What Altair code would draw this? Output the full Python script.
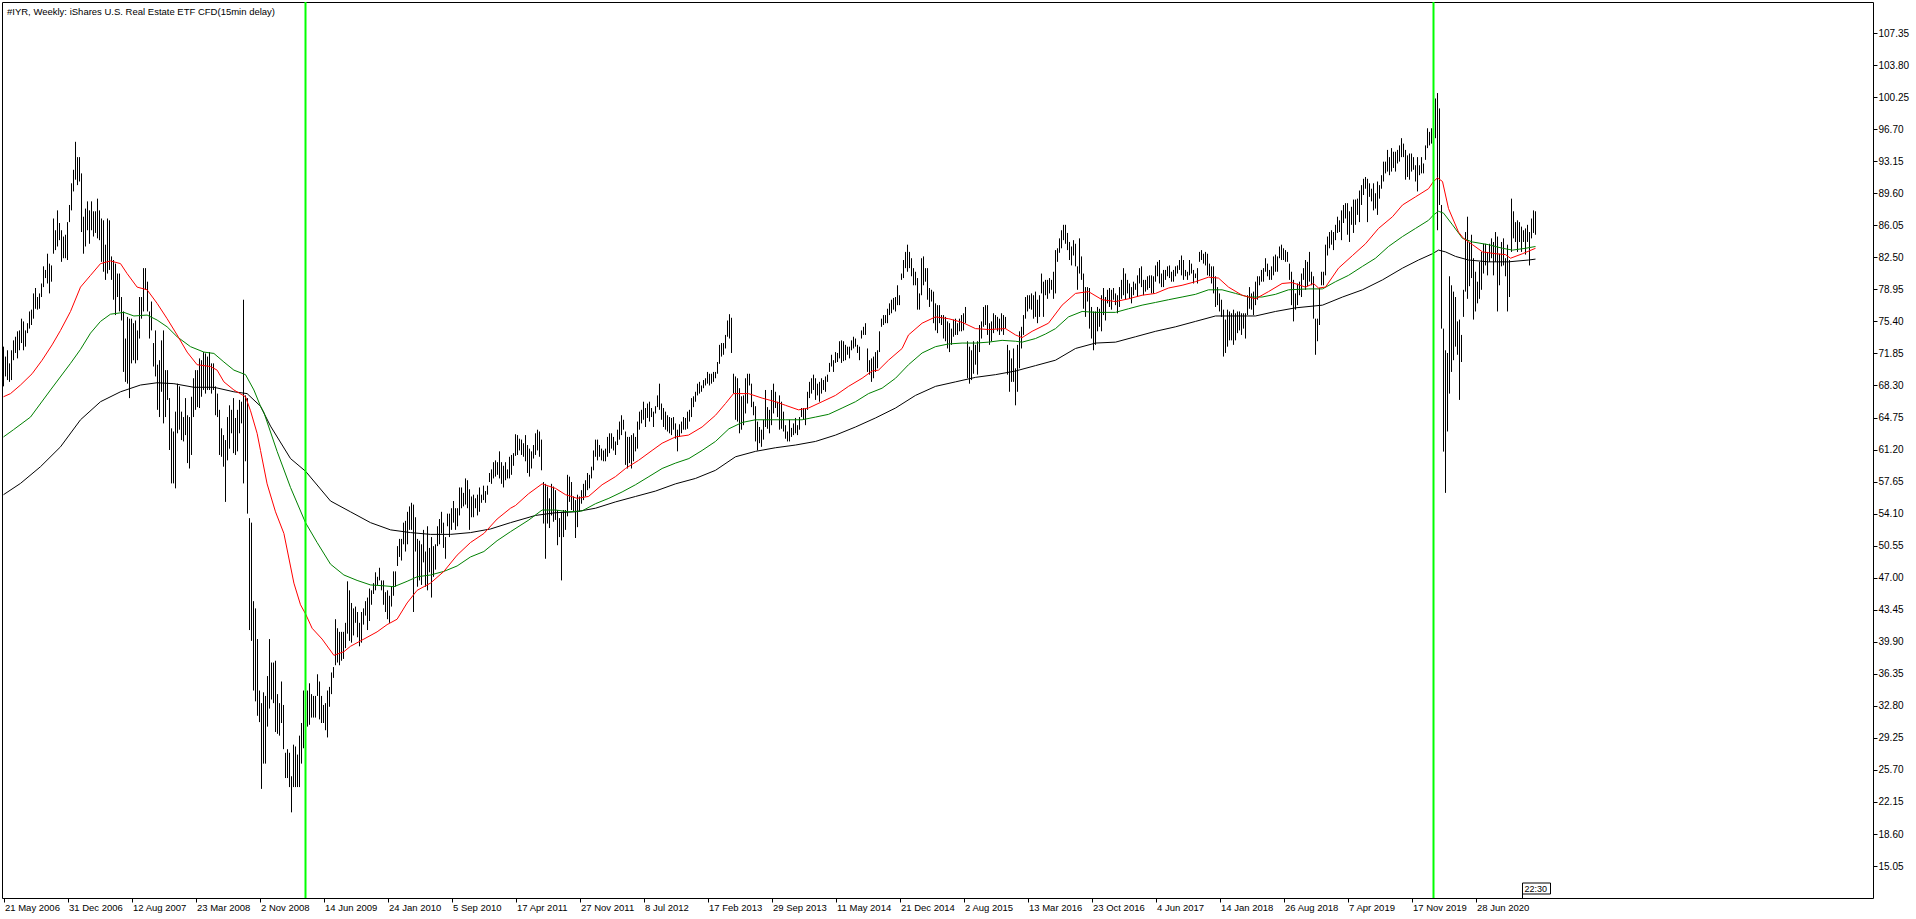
import json
import altair as alt
import pandas as pd

FONT = "Liberation Sans"

title_text = "#IYR, Weekly:  iShares U.S. Real Estate ETF CFD(15min delay)"
first_week = "2006-05-21"  # bar 0; one bar per week
tick_every = 32
tick_labels = ["21 May 2006", "31 Dec 2006", "12 Aug 2007", "23 Mar 2008", "2 Nov 2008",
               "14 Jun 2009", "24 Jan 2010", "5 Sep 2010", "17 Apr 2011", "27 Nov 2011",
               "8 Jul 2012", "17 Feb 2013", "29 Sep 2013", "11 May 2014", "21 Dec 2014",
               "2 Aug 2015", "13 Mar 2016", "23 Oct 2016", "4 Jun 2017", "14 Jan 2018",
               "26 Aug 2018", "7 Apr 2019", "17 Nov 2019", "28 Jun 2020"]
price_ticks = [15.05, 18.60, 22.15, 25.70, 29.25, 32.80, 36.35, 39.90, 43.45, 47.00,
               50.55, 54.10, 57.65, 61.20, 64.75, 68.30, 71.85, 75.40, 78.95, 82.50,
               86.05, 89.60, 93.15, 96.70, 100.25, 103.80, 107.35]

highs = [
    72.6, 71.5, 72.2, 70.75, 72.2, 73.3, 73.7, 74.3, 74.4, 75.7,
    75.4, 74.4, 75.2, 76.5, 76.7, 78.5, 79.1, 78.1, 78.5, 79.6,
    81.5, 81.1, 82.9, 81.8, 81.6, 86.8, 85.5, 87.7, 86.3, 85.5,
    84.8, 85.0, 86.4, 88.3, 90.7, 92.2, 95.3, 93.6, 93.6, 91.8,
    87.0, 87.9, 88.7, 87.7, 88.7, 87.6, 87.6, 89.0, 87.7, 86.8,
    86.6, 83.9, 86.8, 86.6, 82.6, 82.2, 81.8, 80.7, 80.7, 78.1,
    76.5, 73.5, 75.9, 75.7, 75.7, 75.2, 75.5, 74.4, 78.1, 78.1,
    81.3, 81.3, 79.8, 76.5, 77.6, 73.0, 74.4, 70.6, 71.1, 73.3,
    74.4, 70.0, 70.0, 66.9, 63.55, 63.2, 65.4, 68.5, 68.2, 65.4,
    64.8, 66.9, 65.0, 64.8, 67.05, 69.1, 70.0, 70.0, 71.3, 71.1,
    72.0, 71.85, 71.5, 72.0, 70.75, 70.75, 68.2, 67.4, 65.6, 63.55,
    62.8, 62.25, 64.8, 66.1, 65.6, 66.9, 64.7, 65.6, 66.7, 66.5,
    77.8, 67.2, 66.9, 53.6,
    53.1, 44.4, 43.6, 40.2, 34.5, 33.1, 34.3, 33.9, 36.1, 40.2,
    37.6, 37.6, 37.8, 34.1, 33.1, 35.5, 32.9, 27.6, 28.0, 27.6,
    25.0, 28.5, 28.3, 27.4, 29.5, 30.9, 34.5, 34.3, 34.5, 35.3,
    34.1, 33.9, 33.9, 36.3, 35.5, 33.9, 32.9, 33.1, 34.5, 34.9,
    36.5, 37.1, 42.4, 41.4, 41.0, 41.0, 41.0, 42.0, 46.6, 45.6,
    44.2, 43.6, 43.8, 43.2, 42.0, 43.2, 43.6, 44.4, 44.8, 45.8,
    45.6, 46.4, 47.6, 47.1, 48.1, 46.7, 46.7, 45.4, 45.6, 45.0,
    46.0, 47.7, 47.7, 50.5, 51.3, 51.3, 53.1, 53.3, 54.3, 54.9,
    55.3, 55.1, 53.7, 51.3, 51.1, 50.7, 52.3, 49.9, 52.7, 50.3,
    51.5, 50.5, 50.7, 52.7, 53.5, 54.3, 53.1, 51.5, 54.1, 54.1,
    54.7, 55.5, 54.7, 54.7, 57.0, 57.0, 56.4, 58.0, 57.8, 56.8,
    56.0, 56.2, 55.8, 56.2, 57.0, 56.2, 57.2, 56.6, 57.2, 58.6,
    59.0, 59.8, 60.0, 59.8, 61.0, 59.8, 59.4, 59.8, 59.0, 60.4,
    60.6, 60.8,
    62.9, 62.8, 62.4, 62.3, 61.9, 62.8, 61.7, 61.3, 61.0, 61.7,
    63.0, 63.4, 63.2, 62.3, 57.6, 57.4, 57.1, 55.8, 57.4, 57.1,
    56.7, 54.5, 53.6, 54.3, 54.5, 54.5, 58.4, 58.2, 57.6, 56.0,
    55.6, 56.2, 56.0, 56.7, 57.4, 57.8, 58.6, 58.4, 59.3, 61.1,
    62.3, 62.3, 61.7, 61.3, 61.1, 61.3, 62.6, 63.0, 63.0, 62.6,
    62.1, 63.4, 64.3, 65.0, 64.5, 63.2, 62.6, 62.6, 62.8, 63.0,
    62.6, 64.3, 65.4, 65.6, 66.5, 65.8, 66.3, 66.5, 65.8, 65.4,
    66.0, 67.2, 68.5, 66.3, 65.8, 65.4, 65.0, 64.8, 64.7, 64.8,
    64.1, 63.4, 64.0, 64.3, 64.8, 64.7, 65.4, 65.6, 66.9, 67.1,
    67.6, 68.5, 68.7, 68.3, 68.9, 69.1, 69.8, 69.6, 69.6, 69.8,
    69.8, 70.9, 72.8, 73.0, 73.0, 73.9, 75.5, 76.2, 75.8, 69.6,
    69.3, 69.1, 68.0, 67.1, 67.2, 69.1, 69.6, 69.6, 68.5, 66.5,
    66.0, 64.3, 63.7, 63.4, 64.5, 67.8, 65.9, 65.6, 67.8, 68.5,
    67.6, 66.5, 67.2, 66.5, 65.4,
    63.9, 63.2, 64.5, 63.6, 64.1, 64.7, 63.9, 64.8, 65.8, 65.8,
    65.8, 67.6, 68.7, 69.1, 69.5, 69.1, 68.5, 68.7, 69.1, 68.9,
    69.3, 69.5, 70.8, 71.7, 71.1, 72.0, 71.9, 73.2, 73.3, 73.2,
    72.8, 72.6, 72.6, 73.3, 73.7, 73.5, 72.8, 72.6, 74.4, 74.8,
    75.2, 72.4, 71.1, 71.3, 71.5, 72.0, 72.2, 74.3, 75.7, 76.1,
    76.1, 76.8, 77.4, 77.8, 78.0, 78.1, 79.4, 78.3, 80.7, 82.2,
    83.1, 83.9, 83.1, 82.4, 81.3, 80.9, 80.2, 78.5, 82.4, 82.6,
    81.3, 81.3, 79.1, 78.9, 78.7, 77.4, 77.2, 77.2, 76.1, 76.1,
    75.9, 75.4, 75.2, 74.6, 75.6, 75.7, 75.2, 75.7, 76.1, 76.3,
    77.0, 73.2, 72.6, 72.2, 73.2, 72.8, 73.2, 75.0, 75.4, 77.0,
    77.2, 77.2, 75.2, 75.4, 76.3, 76.1, 75.9, 75.7, 76.3, 76.1,
    75.9, 72.8, 72.2, 71.3, 72.4, 70.2, 72.8, 74.3, 74.8, 76.1,
    78.1, 78.3, 78.3, 78.5, 78.3, 78.7, 77.8, 78.3, 80.7, 79.8,
    80.0, 80.0, 80.2, 80.0, 80.9, 83.3, 83.5, 84.6, 85.5, 86.1,
    86.1, 85.2, 84.2, 83.7, 84.4, 84.0, 81.5, 84.6, 82.6, 80.7,
    79.2, 79.2, 79.1, 77.0, 76.5, 76.5, 77.0, 76.8, 78.3, 79.1,
    78.1, 78.9, 79.1, 78.9, 79.1, 78.5, 78.3, 79.2, 80.0, 81.3,
    80.7, 80.0, 79.6, 79.2, 79.8, 79.6, 80.5, 81.3, 81.5, 80.0,
    80.0, 80.4, 80.5, 80.5, 80.4, 81.6, 82.0, 82.2, 80.7, 81.1,
    81.1, 81.5, 81.6, 80.9, 81.1, 81.5, 81.6, 82.2, 82.7, 82.2,
    81.1, 80.9, 82.2, 81.8, 81.1, 80.7, 81.3, 83.1, 83.3, 82.9,
    83.1, 82.9, 81.8, 81.5, 81.5, 80.4, 79.2, 78.5, 77.8, 76.7,
    75.6, 76.7, 76.5, 76.3, 76.7, 76.3, 76.5, 76.5, 76.3, 76.3,
    76.3, 78.3, 79.2, 78.5, 78.7, 79.8, 80.4, 80.4, 81.1, 81.3,
    82.4, 81.8, 81.1, 81.5, 82.6, 82.8, 82.6, 83.7, 83.9, 83.5,
    83.3, 83.1, 81.8, 80.9, 80.0, 78.5, 79.6, 79.8, 80.7, 81.3,
    82.2, 82.0, 83.1, 80.9, 80.4, 75.7, 75.7, 79.1, 80.9, 80.9,
    83.9, 84.8, 85.3, 85.5, 85.3, 86.1, 87.0, 86.6, 87.7, 88.3,
    88.5, 88.5, 87.6, 88.1, 88.9, 88.9, 89.0, 89.9, 90.5, 91.2,
    91.4, 91.2, 90.7, 90.1, 90.7, 89.6, 90.9, 90.5, 91.6, 93.1,
    93.1, 94.4, 93.6, 94.6, 94.2, 94.2, 94.4, 94.9, 95.7, 95.1,
    94.4, 93.8, 94.0, 94.0, 93.6, 92.7, 93.6, 92.7, 93.6, 92.9,
    94.9, 96.8, 96.4, 96.8, 98.1, 100.1, 100.7, 99.0, 88.3, 74.6,
    72.2, 71.9, 80.4, 79.4, 78.7, 78.1, 75.4, 75.6, 73.9, 78.9,
    85.3, 87.0, 84.2, 85.0, 82.4, 80.9, 79.8, 82.0, 83.1, 84.0,
    84.0, 83.1, 84.0, 84.6, 84.2, 85.3, 84.8, 82.9, 84.2, 84.6,
    82.4, 83.9, 82.2, 89.0, 87.6, 86.4, 86.6, 86.4, 85.9, 85.5,
    85.7, 86.1, 85.3, 86.8, 87.7, 87.6,
]

lows = [
    68.2, 69.3, 68.9, 68.7, 68.9, 71.1, 71.9, 71.3, 72.2, 73.0,
    72.2, 72.6, 74.1, 74.6, 75.0, 75.7, 76.8, 76.7, 76.8, 78.1,
    79.2, 80.2, 79.6, 78.5, 79.8, 82.9, 83.3, 83.7, 84.4, 82.0,
    82.4, 82.4, 82.2, 86.4, 87.7, 89.8, 91.1, 90.5, 90.9, 85.3,
    82.9, 83.7, 85.5, 84.0, 85.5, 84.8, 85.2, 84.6, 84.4, 82.0,
    80.9, 80.0, 80.7, 81.1, 80.0, 77.8, 76.1, 78.1, 76.5, 75.5,
    69.8, 68.7, 68.5, 66.9, 70.75, 71.1, 70.75, 71.1, 73.5, 75.7,
    76.5, 78.9, 76.5, 73.5, 74.4, 70.4, 69.3, 65.6, 64.8, 67.6,
    64.1, 64.8, 66.7, 61.15, 57.45, 57.45, 56.9, 63.0, 63.4, 62.25,
    62.1, 62.8, 59.7, 59.1, 60.6, 64.8, 65.6, 65.9, 65.8, 67.05,
    67.8, 67.4, 67.8, 67.8, 67.4, 67.8, 65.0, 64.8, 60.6, 60.4,
    59.3, 55.4, 60.0, 61.3, 63.0, 60.8, 60.6, 61.0, 63.0, 64.1,
    57.45, 59.9, 54.1, 41.2,
    40.0, 34.5, 33.3, 31.7, 31.0, 23.6, 26.4, 26.4, 30.5, 32.5,
    33.5, 33.1, 29.9, 29.7, 29.5, 30.9, 28.0, 24.8, 24.8, 23.8,
    21.0, 23.8, 23.8, 23.8, 23.8, 26.4, 28.1, 28.1, 30.5, 30.7,
    31.5, 31.5, 31.5, 33.9, 31.3, 30.9, 30.9, 30.1, 29.3, 32.7,
    34.1, 35.9, 37.3, 37.6, 37.3, 37.8, 38.0, 39.2, 40.8, 40.0,
    39.8, 40.6, 42.0, 40.4, 39.4, 39.8, 41.8, 42.8, 41.2, 42.2,
    44.0, 45.2, 45.6, 46.2, 46.7, 45.6, 44.0, 43.2, 42.4, 42.0,
    43.8, 45.0, 46.0, 48.3, 49.3, 48.9, 50.7, 49.9, 50.7, 52.3,
    52.3, 43.2, 49.9, 46.0, 46.7, 46.2, 48.7, 46.0, 45.6, 47.6,
    44.8, 47.1, 47.9, 50.5, 50.7, 51.9, 50.3, 49.1, 52.7, 51.5,
    52.3, 53.1, 52.3, 52.7, 53.9, 54.7, 54.9, 55.1, 54.7, 52.3,
    53.7, 53.7, 54.7, 53.9, 54.3, 55.3, 55.6, 55.3, 56.2, 57.6,
    57.4, 58.0, 58.2, 58.4, 58.0, 57.4, 57.0, 57.8, 58.0, 58.0,
    58.4, 59.4,
    60.5, 60.6, 61.1, 60.6, 60.4, 59.9, 58.6, 58.2, 59.1, 60.2,
    60.6, 61.1, 60.4, 58.9, 53.0, 49.1, 53.0, 52.5, 53.9, 53.2,
    53.4, 50.6, 51.5, 46.7, 51.5, 52.3, 53.8, 55.4, 54.5, 54.3,
    51.4, 52.6, 54.3, 55.2, 55.6, 56.0, 56.7, 56.9, 58.0, 58.9,
    60.4, 60.0, 60.4, 60.0, 59.9, 59.9, 60.4, 60.8, 61.3, 61.1,
    60.6, 61.7, 62.3, 62.8, 63.4, 59.5, 59.1, 59.7, 59.1, 59.9,
    61.0, 61.3, 63.4, 64.1, 64.5, 63.7, 64.7, 64.3, 64.8, 63.7,
    65.2, 65.9, 65.6, 64.5, 63.7, 63.4, 63.2, 63.0, 62.8, 63.4,
    62.4, 61.0, 62.6, 63.0, 63.4, 63.4, 63.5, 64.3, 64.8, 65.9,
    66.5, 67.2, 67.4, 67.6, 68.0, 68.3, 68.5, 68.3, 68.5, 68.7,
    69.1, 69.6, 70.7, 71.5, 71.7, 72.4, 73.7, 73.5, 71.9, 67.4,
    64.5, 64.3, 63.0, 63.4, 63.9, 65.2, 66.3, 68.3, 65.9, 65.0,
    62.1, 61.1, 61.9, 61.5, 62.3, 63.7, 63.5, 63.0, 63.9, 65.2,
    65.8, 64.8, 63.4, 63.5, 63.2,
    62.4, 62.1, 62.1, 62.6, 62.8, 63.0, 62.8, 63.4, 64.8, 64.5,
    63.9, 65.6, 66.9, 67.4, 67.8, 66.7, 67.2, 66.5, 67.4, 67.8,
    67.6, 68.7, 69.8, 70.4, 69.8, 70.8, 70.9, 71.3, 70.8, 71.0,
    71.1, 71.7, 71.3, 72.2, 72.4, 72.6, 71.9, 71.1, 73.5, 73.9,
    73.9, 69.8, 69.5, 68.7, 69.1, 69.8, 70.2, 72.0, 74.8, 75.0,
    75.2, 75.2, 76.1, 76.3, 76.7, 76.5, 77.2, 77.2, 80.0, 80.2,
    81.3, 80.9, 81.3, 80.4, 79.4, 79.4, 76.7, 76.7, 78.3, 79.4,
    79.8, 77.8, 77.0, 77.6, 75.2, 74.4, 74.1, 75.2, 75.0, 73.5,
    73.2, 72.4, 72.0, 72.8, 73.7, 73.9, 73.9, 74.3, 74.3, 74.4,
    75.2, 69.1, 68.5, 68.9, 69.6, 70.6, 69.5, 72.0, 73.5, 74.8,
    75.0, 73.9, 72.8, 73.2, 74.1, 74.6, 74.3, 73.9, 74.3, 73.9,
    74.6, 69.5, 67.6, 68.7, 68.7, 66.1, 67.6, 70.2, 72.4, 73.9,
    75.7, 76.5, 76.8, 76.7, 75.7, 75.9, 75.2, 75.9, 78.5, 75.9,
    78.3, 77.9, 78.5, 78.9, 77.9, 78.5, 82.0, 83.0, 83.5, 84.4,
    84.0, 83.3, 82.2, 81.6, 82.7, 81.5, 78.9, 80.7, 80.0, 76.8,
    75.9, 77.6, 74.6, 73.5, 72.2, 72.8, 74.3, 74.8, 74.3, 76.1,
    75.5, 77.4, 77.0, 76.7, 77.8, 77.2, 76.3, 77.0, 77.9, 78.3,
    77.8, 78.5, 77.9, 77.4, 78.3, 78.9, 78.1, 79.6, 79.2, 78.3,
    78.7, 78.9, 79.1, 78.5, 78.5, 79.8, 80.4, 79.6, 79.2, 79.2,
    80.0, 80.4, 80.2, 79.8, 79.8, 80.4, 80.7, 81.1, 80.5, 80.0,
    80.4, 80.0, 80.5, 80.7, 79.6, 80.2, 79.6, 82.0, 82.2, 81.8,
    81.6, 80.5, 80.4, 79.6, 78.5, 77.0, 77.2, 76.5, 75.9, 71.5,
    71.9, 72.6, 73.3, 73.3, 72.8, 73.3, 74.1, 74.4, 73.9, 74.6,
    73.5, 76.1, 76.8, 76.7, 76.1, 77.2, 77.8, 79.4, 79.8, 79.8,
    80.9, 80.4, 80.0, 80.0, 80.5, 80.9, 80.9, 82.4, 82.2, 82.2,
    82.0, 82.0, 80.0, 77.2, 75.4, 76.7, 77.2, 78.3, 78.1, 80.0,
    78.9, 79.3, 79.8, 79.4, 75.7, 71.7, 73.2, 75.0, 79.4, 79.4,
    80.5, 82.7, 83.5, 83.9, 83.3, 84.4, 85.2, 85.3, 84.4, 86.3,
    86.8, 85.0, 84.2, 86.1, 85.2, 86.1, 87.2, 86.4, 88.3, 89.4,
    90.1, 86.4, 89.2, 88.7, 87.7, 87.9, 87.2, 89.0, 90.1, 90.9,
    91.8, 92.0, 91.6, 92.0, 92.4, 92.0, 92.9, 93.1, 93.6, 93.6,
    91.1, 91.4, 91.1, 92.0, 92.2, 90.9, 89.8, 91.6, 91.8, 91.8,
    93.3, 94.6, 94.9, 95.1, 96.0, 95.7, 85.5, 88.3, 74.6, 60.97,
    56.4, 63.2, 67.4, 69.8, 71.1, 72.6, 71.7, 66.7, 70.9, 75.9,
    78.7, 77.9, 79.3, 80.2, 75.6, 76.5, 77.4, 77.9, 78.9, 80.7,
    81.6, 80.5, 82.0, 82.4, 80.5, 82.0, 76.5, 79.4, 81.5, 81.6,
    80.4, 76.5, 78.1, 83.1, 84.6, 84.2, 83.1, 84.2, 83.1, 84.2,
    82.8, 84.2, 81.6, 84.6, 85.2, 85.0,
]

# moving averages, read at bar positions (week index)
red_idx = [0, 3.5, 8.5, 14.3, 19.3, 24.3, 28.5, 33.5, 38.5, 43.5, 48.5, 53.5, 58.5, 61.8, 66.8,
           71.8, 76.8, 81.8, 86.8, 91.8, 96.8, 103.5, 106.8, 110.2, 115.2, 121, 123.5, 126.8,
           128.5, 131.8, 136, 140.2, 145.2, 148.5, 151, 154.3, 159.3, 165.2, 170.2, 173.5,
           180.2, 186.8, 191.8, 196.8, 201.8, 206.8, 213.5, 220.2, 226.8, 233.5, 240.2, 246.8,
           253.5, 256, 262.5, 269.3, 276, 281, 286.8, 292.5, 299.3, 306, 311, 317.5, 324.3,
           329.3, 336, 342.5, 349.3, 356, 361, 365, 372.5, 379.3, 386, 391, 397.5, 402.5,
           409.3, 416, 422.5, 429.3, 434.3, 437.5, 442.5, 449.3, 452.5, 459.3, 466, 472.5,
           479.3, 486, 492.5, 501, 506, 509.3, 514.3, 522.5, 529.3, 536, 542.5, 549.3, 556,
           562.5, 569.3, 576, 582.5, 589.3, 596, 602.5, 607.5, 612.5, 619.3, 626, 632.5, 639.3,
           644.3, 651, 655, 657.5, 661, 667.5, 674.5, 681, 687.5, 694.5, 699.5, 706, 712.5,
           715, 717, 719.5, 722.5, 727.5, 730, 734.5, 739.5, 746, 751, 753.5, 759.5, 766]
red_val = [67.05, 67.4, 68.35, 69.6, 71.1, 72.8, 74.4, 76.5, 79.2, 80.5, 81.8, 82.1, 81.8, 80.7,
           79.2, 78.9, 77.4, 75.7, 73.9, 72.0, 70.6, 70.4, 70.0, 68.7, 67.8, 67.05, 65.5, 63.0,
           61.1, 57.4, 54.3, 51.9, 46.4, 44.0, 43.0, 41.4, 40.2, 38.4, 38.8, 39.4, 40.2, 41.0,
           41.8, 42.4, 44.2, 45.6, 46.4, 47.7, 49.5, 50.9, 51.9, 53.5, 54.7, 55.0, 56.3, 57.4,
           56.9, 56.2, 55.8, 56.0, 57.3, 58.2, 59.1, 60.0, 61.1, 61.9, 62.6, 62.8, 63.7, 65.0,
           66.3, 67.4, 67.4, 66.9, 66.5, 66.1, 65.6, 65.8, 66.5, 67.2, 68.2, 69.1, 69.9, 70.0,
           71.1, 72.4, 73.9, 75.2, 75.9, 75.7, 75.3, 74.6, 74.5, 74.6, 73.9, 73.6, 74.3, 75.2,
           77.2, 78.5, 78.7, 77.8, 77.6, 77.9, 78.3, 78.5, 79.1, 79.4, 79.8, 80.3, 80.2, 79.2,
           78.3, 77.9, 78.7, 79.6, 79.7, 79.2, 79.6, 79.1, 79.2, 81.3, 82.7, 84.0, 85.7, 87.0,
           88.3, 89.2, 90.1, 90.9, 91.3, 90.9, 87.9, 85.3, 84.6, 83.9, 83.1, 82.9, 82.8, 82.4,
           82.9, 83.5]

green_idx = [0, 5, 13.5, 23.5, 33.5, 38.5, 43.5, 48.5, 53.5, 60.2, 65.2, 71.8, 76.8, 81.8, 86.8,
             93.5, 100.2, 105.2, 110.2, 115.2, 121, 125.2, 128.5, 130.2, 136.8, 143.5, 151,
             156.8, 163.5, 170.2, 176.8, 183.5, 190.2, 195.2, 201.8, 206.8, 213.5, 220.2, 226.8,
             233.5, 240.2, 246.8, 253.5, 262.7, 269.3, 276, 282.7, 289.3, 296, 302.7, 309.3,
             316, 322.7, 329.3, 336, 342.7, 349.3, 356, 362.7, 369.3, 376, 382.7, 391, 399.3,
             406, 412.5, 419.3, 426, 432.5, 439.3, 446, 452.5, 459.3, 466, 472.5, 479.3, 486,
             492.5, 499.3, 506, 509.3, 516, 521, 526, 532.5, 539.3, 546, 556, 562.5, 569.3, 576,
             582.5, 589.3, 596, 602.5, 609.3, 616, 622.5, 629.3, 636, 642.5, 652.5, 659.5, 666,
             672.5, 679.5, 686, 692.5, 699.5, 706, 712.5, 715, 717.5, 720, 724.5, 729.5, 734.5,
             742.5, 749.5, 754.5, 761, 766]
green_val = [62.6, 63.4, 64.8, 67.8, 70.75, 72.3, 74.1, 75.4, 76.2, 76.4, 76.0, 76.1, 75.55, 74.8,
             73.7, 72.6, 72.0, 71.85, 70.9, 70.0, 69.5, 67.8, 66.0, 65.3, 61.0, 57.0, 53.1, 50.9,
             48.5, 47.3, 46.7, 46.2, 46.1, 46.0, 46.6, 47.1, 47.3, 47.7, 48.3, 49.3, 49.9, 51.1,
             52.1, 53.4, 54.5, 54.5, 54.3, 54.4, 55.2, 55.8, 56.5, 57.3, 58.2, 59.1, 59.7, 60.2,
             61.1, 62.1, 63.5, 64.2, 64.5, 64.5, 64.5, 64.5, 64.8, 65.1, 65.8, 66.5, 67.4, 68.0,
             69.1, 70.6, 71.9, 72.6, 72.9, 73.0, 73.0, 73.1, 73.3, 73.2, 73.1, 73.5, 74.0, 74.6,
             75.9, 76.5, 76.4, 76.4, 76.8, 77.2, 77.5, 77.8, 78.1, 78.4, 78.9, 78.9, 78.5, 78.1,
             78.1, 78.4, 78.9, 79.0, 79.0, 79.8, 80.5, 81.5, 82.4, 83.7, 84.8, 85.7, 86.6, 87.2,
             87.6, 87.4, 86.1, 84.6, 84.2, 83.9, 83.5, 83.3, 83.5, 83.7]

black_idx = [0, 8.5, 18.5, 28.5, 38.5, 48.5, 58.5, 68.5, 76.8, 85.2, 95.2, 105.2, 115.2, 121.8,
             128.5, 133.5, 143.5, 151, 163.5, 173.5, 183.5, 193.5, 203.5, 213.5, 223.5, 233.5,
             243.5, 253.5, 266, 276, 286, 296, 306, 316, 326, 336, 346, 356, 366, 376, 386,
             396, 406, 416, 426, 436, 446, 456, 466, 476, 486, 496, 506, 516, 526, 536, 546,
             556, 566, 576, 586, 596, 606, 616, 626, 636, 646, 659.5, 669.5, 679.5, 689.5,
             699.5, 707.5, 714.5, 717.5, 721, 726, 732.5, 742.5, 752.5, 762.5, 766]
black_val = [56.2, 57.45, 59.3, 61.5, 64.5, 66.5, 67.6, 68.35, 68.6, 68.5, 68.1, 68.1, 67.6, 67.4,
             66.0, 63.8, 60.2, 58.8, 55.5, 54.3, 53.1, 52.3, 52.0, 51.8, 51.8, 52.0, 52.4, 53.1,
             53.9, 54.2, 54.3, 54.7, 55.4, 56.0, 56.6, 57.4, 58.0, 58.9, 60.4, 61.0, 61.4, 61.7,
             62.1, 62.8, 63.7, 64.7, 65.8, 67.2, 68.2, 68.7, 69.2, 69.5, 69.9, 70.5, 71.1, 72.4,
             73.0, 73.1, 73.7, 74.3, 74.8, 75.4, 76.0, 76.0, 76.0, 76.5, 76.9, 77.2, 78.1, 78.9,
             80.0, 81.3, 82.2, 82.9, 83.3, 83.1, 82.6, 82.2, 82.0, 82.0, 82.2, 82.3]

marker_weeks = [151, 715]
clock_text = "22:30"
clock_week = 759.5
clock_week_end = 773.5

# ---------------- chart ----------------
W, H = 1871, 896
xs = alt.Scale(domain=[-0.75, 934.75], nice=False, zero=False)
ys = alt.Scale(domain=[11.51, 110.79], nice=False, zero=False)

label_expr = json.dumps(tick_labels) + "[round(datum.value / %d)]" % tick_every
x_axis = alt.Axis(values=[tick_every * k for k in range(len(tick_labels))], labelExpr=label_expr,
                  title=None, grid=False, domain=False, ticks=True, tickSize=4, tickColor="black",
                  labelAlign="left", labelBaseline="top", labelPadding=0, labelOffset=1,
                  labelFont=FONT, labelFontSize=9.5, labelColor="black",
                  labelOverlap=False, labelFlush=False, labelBound=False)
y_axis = alt.Axis(orient="right", values=price_ticks, format=".2f", title=None, grid=False,
                  domain=False, ticks=True, tickSize=4, tickColor="black", labelPadding=1,
                  labelBaseline="middle", labelAlign="left", labelFont=FONT, labelFontSize=10,
                  labelColor="black", labelOverlap=False, labelFlush=False, labelBound=False)

X = lambda f: alt.X(f, scale=xs, axis=x_axis)
Y = lambda f: alt.Y(f, scale=ys, axis=y_axis)

bars_df = pd.DataFrame({"i": list(range(len(highs))), "high": highs, "low": lows})
bars = alt.Chart(bars_df).mark_rule(color="black", strokeWidth=1).encode(
    x=X("i:Q"), y=Y("low:Q"), y2="high:Q")


def ma_layer(idx, val, color):
    df = pd.DataFrame({"i": idx, "low": val})
    return alt.Chart(df).mark_line(color=color, strokeWidth=1).encode(x=X("i:Q"), y=Y("low:Q"))


black_line = ma_layer(black_idx, black_val, "#000000")
green_line = ma_layer(green_idx, green_val, "#008000")
red_line = ma_layer(red_idx, red_val, "#ff0000")

vlines = alt.Chart(pd.DataFrame({"i": marker_weeks})).mark_rule(
    color="#00ff00", strokeWidth=2).encode(x=X("i:Q"))

title = alt.Chart(pd.DataFrame({"t": [title_text]})).mark_text(
    align="left", baseline="middle", font=FONT, fontSize=9.5, color="black").encode(
    x=alt.value(5), y=alt.value(10), text="t:N")

clock_df = pd.DataFrame({"i": [clock_week], "i2": [clock_week_end], "t": [clock_text]})
clock_box = alt.Chart(clock_df).mark_rect(fill="white", stroke="black", strokeWidth=1).encode(
    x=X("i:Q"), x2="i2:Q", y=alt.value(881), y2=alt.value(892))
clock_stem = alt.Chart(clock_df).mark_rule(color="black", strokeWidth=1).encode(
    x=X("i:Q"), y=alt.value(892), y2=alt.value(896))
clock_label = alt.Chart(clock_df).mark_text(
    align="left", baseline="middle", dx=2, font=FONT, fontSize=9, color="black").encode(
    x=X("i:Q"), y=alt.value(886.5), text="t:N")

chart = alt.layer(
    bars, black_line, green_line, red_line, vlines, title, clock_box, clock_stem, clock_label
).properties(
    width=W, height=H,
    padding={"left": 2, "top": 2, "right": 43, "bottom": 21},
    autosize=alt.AutoSizeParams(type="none"),
    background="white",
).configure_view(stroke="black", strokeWidth=1)

chart.save("out.html", embed_options={"renderer": "svg", "actions": False})
